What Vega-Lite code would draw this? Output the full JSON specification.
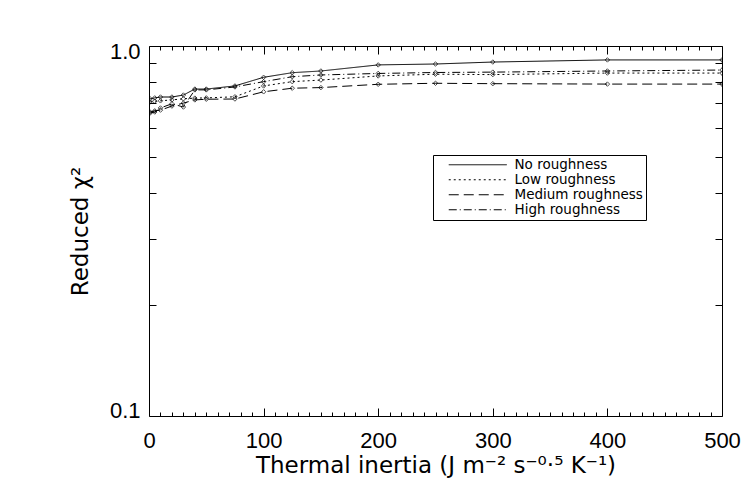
{
  "$schema": "https://vega.github.io/schema/vega-lite/v6.json",
  "width": 573,
  "height": 370,
  "autosize": {"type": "none"},
  "padding": {"left": 149, "top": 46, "right": 33, "bottom": 83},
  "background": "white",
  "config": {
    "view": {"stroke": "black", "strokeWidth": 1},
    "axis": {"domain": false, "grid": false, "labelColor": "black", "titleColor": "black", "tickColor": "black", "labelFont": "Liberation Sans", "titleFont": "DejaVu Sans", "titleFontWeight": "normal"}
  },
  "data": {
    "values": [
      {"inertia": 1, "chi2": 0.720, "roughness": "No roughness"},
      {"inertia": 5, "chi2": 0.724, "roughness": "No roughness"},
      {"inertia": 10, "chi2": 0.728, "roughness": "No roughness"},
      {"inertia": 20, "chi2": 0.728, "roughness": "No roughness"},
      {"inertia": 30, "chi2": 0.737, "roughness": "No roughness"},
      {"inertia": 40, "chi2": 0.765, "roughness": "No roughness"},
      {"inertia": 50, "chi2": 0.765, "roughness": "No roughness"},
      {"inertia": 75, "chi2": 0.780, "roughness": "No roughness"},
      {"inertia": 100, "chi2": 0.823, "roughness": "No roughness"},
      {"inertia": 125, "chi2": 0.847, "roughness": "No roughness"},
      {"inertia": 150, "chi2": 0.856, "roughness": "No roughness"},
      {"inertia": 200, "chi2": 0.889, "roughness": "No roughness"},
      {"inertia": 250, "chi2": 0.894, "roughness": "No roughness"},
      {"inertia": 300, "chi2": 0.905, "roughness": "No roughness"},
      {"inertia": 400, "chi2": 0.917, "roughness": "No roughness"},
      {"inertia": 500, "chi2": 0.917, "roughness": "No roughness"},
      {"inertia": 1, "chi2": 0.706, "roughness": "Low roughness"},
      {"inertia": 5, "chi2": 0.709, "roughness": "Low roughness"},
      {"inertia": 10, "chi2": 0.711, "roughness": "Low roughness"},
      {"inertia": 20, "chi2": 0.715, "roughness": "Low roughness"},
      {"inertia": 30, "chi2": 0.720, "roughness": "Low roughness"},
      {"inertia": 40, "chi2": 0.723, "roughness": "Low roughness"},
      {"inertia": 50, "chi2": 0.724, "roughness": "Low roughness"},
      {"inertia": 75, "chi2": 0.729, "roughness": "Low roughness"},
      {"inertia": 100, "chi2": 0.780, "roughness": "Low roughness"},
      {"inertia": 125, "chi2": 0.801, "roughness": "Low roughness"},
      {"inertia": 150, "chi2": 0.809, "roughness": "Low roughness"},
      {"inertia": 200, "chi2": 0.830, "roughness": "Low roughness"},
      {"inertia": 250, "chi2": 0.839, "roughness": "Low roughness"},
      {"inertia": 300, "chi2": 0.837, "roughness": "Low roughness"},
      {"inertia": 400, "chi2": 0.845, "roughness": "Low roughness"},
      {"inertia": 500, "chi2": 0.845, "roughness": "Low roughness"},
      {"inertia": 1, "chi2": 0.663, "roughness": "Medium roughness"},
      {"inertia": 5, "chi2": 0.668, "roughness": "Medium roughness"},
      {"inertia": 10, "chi2": 0.671, "roughness": "Medium roughness"},
      {"inertia": 20, "chi2": 0.688, "roughness": "Medium roughness"},
      {"inertia": 30, "chi2": 0.701, "roughness": "Medium roughness"},
      {"inertia": 40, "chi2": 0.715, "roughness": "Medium roughness"},
      {"inertia": 50, "chi2": 0.718, "roughness": "Medium roughness"},
      {"inertia": 75, "chi2": 0.719, "roughness": "Medium roughness"},
      {"inertia": 100, "chi2": 0.752, "roughness": "Medium roughness"},
      {"inertia": 125, "chi2": 0.769, "roughness": "Medium roughness"},
      {"inertia": 150, "chi2": 0.772, "roughness": "Medium roughness"},
      {"inertia": 200, "chi2": 0.788, "roughness": "Medium roughness"},
      {"inertia": 250, "chi2": 0.793, "roughness": "Medium roughness"},
      {"inertia": 300, "chi2": 0.791, "roughness": "Medium roughness"},
      {"inertia": 400, "chi2": 0.789, "roughness": "Medium roughness"},
      {"inertia": 500, "chi2": 0.789, "roughness": "Medium roughness"},
      {"inertia": 1, "chi2": 0.659, "roughness": "High roughness"},
      {"inertia": 5, "chi2": 0.663, "roughness": "High roughness"},
      {"inertia": 10, "chi2": 0.680, "roughness": "High roughness"},
      {"inertia": 20, "chi2": 0.698, "roughness": "High roughness"},
      {"inertia": 30, "chi2": 0.684, "roughness": "High roughness"},
      {"inertia": 40, "chi2": 0.761, "roughness": "High roughness"},
      {"inertia": 50, "chi2": 0.761, "roughness": "High roughness"},
      {"inertia": 75, "chi2": 0.775, "roughness": "High roughness"},
      {"inertia": 100, "chi2": 0.801, "roughness": "High roughness"},
      {"inertia": 125, "chi2": 0.826, "roughness": "High roughness"},
      {"inertia": 150, "chi2": 0.835, "roughness": "High roughness"},
      {"inertia": 200, "chi2": 0.843, "roughness": "High roughness"},
      {"inertia": 250, "chi2": 0.848, "roughness": "High roughness"},
      {"inertia": 300, "chi2": 0.850, "roughness": "High roughness"},
      {"inertia": 400, "chi2": 0.856, "roughness": "High roughness"},
      {"inertia": 500, "chi2": 0.861, "roughness": "High roughness"}
    ]
  },
  "layer": [
    {
      "mark": {"type": "line", "color": "black", "strokeWidth": 1, "clip": true},
      "encoding": {
        "x": {
          "field": "inertia", "type": "quantitative",
          "scale": {"domain": [0, 500], "nice": false, "zero": false},
          "axis": {"orient": "bottom", "values": [0, 100, 200, 300, 400, 500], "ticks": false, "labelPadding": 14, "labelFontSize": 22, "labelFlush": false, "labelOverlap": false, "title": "Thermal inertia (J m⁻² s⁻⁰·⁵ K⁻¹)", "titleFontSize": 23, "titlePadding": 3}
        },
        "y": {
          "field": "chi2", "type": "quantitative",
          "scale": {"type": "log", "domain": [0.1, 1], "nice": false},
          "axis": {"orient": "left", "values": [0.1, 1], "ticks": false, "labelPadding": 9, "labelFontSize": 22, "labelFlush": false, "labelOverlap": false, "labelExpr": "format(datum.value, '.1f')", "labelOffset": {"condition": {"test": "datum.value > 0.5", "value": 5}, "value": -6}, "title": "Reduced χ²", "titleFontSize": 23, "titlePadding": 17}
        },
        "strokeDash": {
          "field": "roughness", "type": "nominal",
          "scale": {"domain": ["No roughness", "Low roughness", "Medium roughness", "High roughness"], "range": [[1, 0], [2, 3], [10, 5], [8, 3, 1, 3]]},
          "legend": {"orient": "none", "legendX": 284, "legendY": 109, "title": null, "symbolType": "M-9.67,0H9.67", "symbolSize": 36, "symbolStrokeWidth": 1, "symbolStrokeColor": "black", "labelFont": "DejaVu Sans", "labelFontSize": 13.5, "labelColor": "black", "labelOffset": 30, "labelLimit": 300, "strokeColor": "black", "fillColor": "white", "padding": 3, "rowPadding": 0, "symbolOffset": 35}
        }
      }
    },
    {
      "mark": {"type": "point", "shape": "diamond", "size": 20, "filled": false, "color": "black", "strokeWidth": 1, "clip": true},
      "encoding": {
        "x": {
          "field": "inertia", "type": "quantitative",
          "scale": {"domain": [0, 500], "nice": false, "zero": false},
          "axis": {"orient": "bottom", "values": [0,10,20,30,40,50,60,70,80,90,100,110,120,130,140,150,160,170,180,190,200,210,220,230,240,250,260,270,280,290,300,310,320,330,340,350,360,370,380,390,400,410,420,430,440,450,460,470,480,490,500], "labels": false, "tickSize": {"condition": {"test": "datum.value % 100 === 0", "value": -8}, "value": -4}, "title": null}
        },
        "y": {
          "field": "chi2", "type": "quantitative",
          "scale": {"type": "log", "domain": [0.1, 1], "nice": false},
          "axis": {"orient": "left", "values": [0.2, 0.3, 0.4, 0.5, 0.6, 0.7, 0.8, 0.9], "labels": false, "tickSize": -7, "title": null}
        },
        "detail": {"field": "roughness", "type": "nominal"}
      }
    },
    {
      "mark": {"type": "line", "color": "black", "strokeOpacity": 0, "clip": true},
      "encoding": {
        "x": {
          "field": "inertia", "type": "quantitative",
          "scale": {"domain": [0, 500], "nice": false, "zero": false},
          "axis": {"orient": "top", "values": [0,10,20,30,40,50,60,70,80,90,100,110,120,130,140,150,160,170,180,190,200,210,220,230,240,250,260,270,280,290,300,310,320,330,340,350,360,370,380,390,400,410,420,430,440,450,460,470,480,490,500], "labels": false, "tickSize": {"condition": {"test": "datum.value % 100 === 0", "value": -8}, "value": -4}, "title": null}
        },
        "y": {
          "field": "chi2", "type": "quantitative",
          "scale": {"type": "log", "domain": [0.1, 1], "nice": false},
          "axis": {"orient": "right", "values": [0.2, 0.3, 0.4, 0.5, 0.6, 0.7, 0.8, 0.9], "labels": false, "tickSize": -7, "title": null}
        },
        "detail": {"field": "roughness", "type": "nominal"}
      }
    }
  ],
  "resolve": {"axis": {"x": "independent", "y": "independent"}}
}
